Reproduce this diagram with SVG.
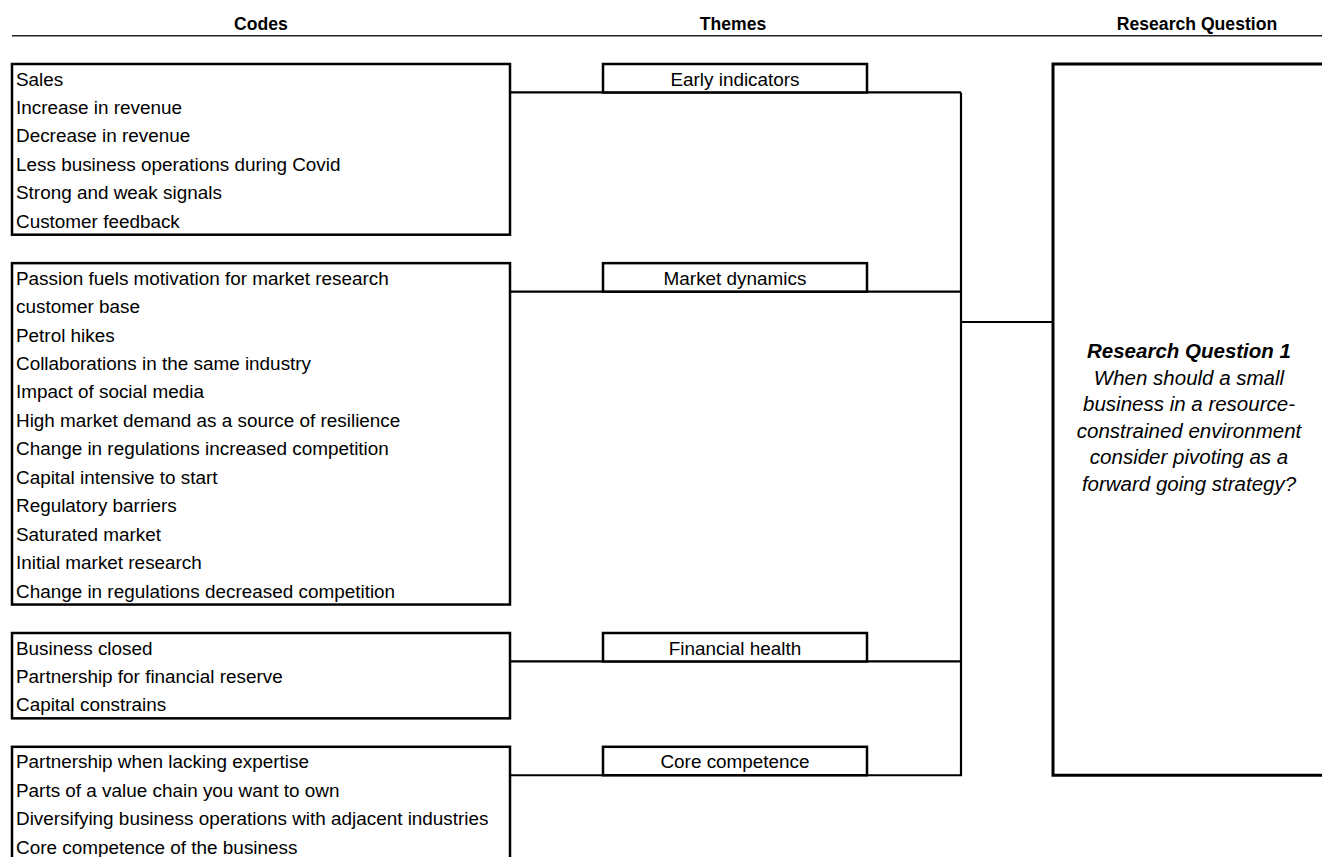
<svg xmlns="http://www.w3.org/2000/svg" width="1322" height="857" viewBox="0 0 1322 857">
<style>
.hdr{font-family:"Liberation Sans",Arial,sans-serif;font-weight:bold;font-size:17.6px;fill:#000;text-anchor:middle}
.t{font-family:"Liberation Sans",Arial,sans-serif;font-size:18.9px;fill:#000}
.th{font-family:"Liberation Sans",Arial,sans-serif;font-size:18.9px;fill:#000;text-anchor:middle}
.box{fill:#fff;stroke:#000;stroke-width:2.5}
.con{fill:none;stroke:#000;stroke-width:2.2}
.rq{font-family:"Liberation Sans",Arial,sans-serif;font-style:italic;font-size:20.5px;fill:#000;text-anchor:middle}
</style>
<rect width="1322" height="857" fill="#fff"/>
<g id="header">
<text class="hdr" x="261" y="30">Codes</text>
<text class="hdr" x="733" y="30">Themes</text>
<text class="hdr" x="1197" y="30">Research Question</text>
<line x1="12" y1="35.7" x2="1322" y2="35.7" stroke="#222" stroke-width="1.6"/>
</g>
<g id="connectors">
<path class="con" d="M510 92.45 H961 M510 291.6 H961 M510 661.45 H961 M510 775.25 H961 M961 92.45 V776.3 M961 322 H1053"/>
</g>
<g id="codes-early">
<rect class="box" x="12" y="64" width="498" height="170.7"/>
<text class="t" x="16" y="85.5">Sales</text>
<text class="t" x="16" y="113.95">Increase in revenue</text>
<text class="t" x="16" y="142.4">Decrease in revenue</text>
<text class="t" x="16" y="170.85">Less business operations during Covid</text>
<text class="t" x="16" y="199.3">Strong and weak signals</text>
<text class="t" x="16" y="227.75">Customer feedback</text>
</g>
<g id="codes-market">
<rect class="box" x="12" y="263.15" width="498" height="341.4"/>
<text class="t" x="16" y="284.65">Passion fuels motivation for market research</text>
<text class="t" x="16" y="313.1">customer base</text>
<text class="t" x="16" y="341.55">Petrol hikes</text>
<text class="t" x="16" y="370">Collaborations in the same industry</text>
<text class="t" x="16" y="398.45">Impact of social media</text>
<text class="t" x="16" y="426.9">High market demand as a source of resilience</text>
<text class="t" x="16" y="455.35">Change in regulations increased competition</text>
<text class="t" x="16" y="483.8">Capital intensive to start</text>
<text class="t" x="16" y="512.25">Regulatory barriers</text>
<text class="t" x="16" y="540.7">Saturated market</text>
<text class="t" x="16" y="569.15">Initial market research</text>
<text class="t" x="16" y="597.6">Change in regulations decreased competition</text>
</g>
<g id="codes-financial">
<rect class="box" x="12" y="633" width="498" height="85.35"/>
<text class="t" x="16" y="654.5">Business closed</text>
<text class="t" x="16" y="682.95">Partnership for financial reserve</text>
<text class="t" x="16" y="711.4">Capital constrains</text>
</g>
<g id="codes-core">
<rect class="box" x="12" y="746.8" width="498" height="120"/>
<text class="t" x="16" y="768.3">Partnership when lacking expertise</text>
<text class="t" x="16" y="796.75">Parts of a value chain you want to own</text>
<text class="t" x="16" y="825.2">Diversifying business operations with adjacent industries</text>
<text class="t" x="16" y="853.65">Core competence of the business</text>
</g>
<g id="theme-early">
<rect class="box" x="603" y="64" width="264" height="28.45"/>
<text class="th" x="735" y="85.5">Early indicators</text>
</g>
<g id="theme-market">
<rect class="box" x="603" y="263.15" width="264" height="28.45"/>
<text class="th" x="735" y="284.65">Market dynamics</text>
</g>
<g id="theme-financial">
<rect class="box" x="603" y="633" width="264" height="28.45"/>
<text class="th" x="735" y="654.5">Financial health</text>
</g>
<g id="theme-core">
<rect class="box" x="603" y="746.8" width="264" height="28.45"/>
<text class="th" x="735" y="768.3">Core competence</text>
</g>
<g id="research-question">
<path d="M1322 64 H1053 V775.25 H1322" fill="none" stroke="#000" stroke-width="3"/>
<text class="rq" x="1189" y="358" font-weight="bold">Research Question 1</text>
<text class="rq" x="1189" y="384.6">When should a small</text>
<text class="rq" x="1189" y="411.2">business in a resource-</text>
<text class="rq" x="1189" y="437.8">constrained environment</text>
<text class="rq" x="1189" y="464.4">consider pivoting as a</text>
<text class="rq" x="1189" y="491">forward going strategy?</text>
</g>
</svg>
